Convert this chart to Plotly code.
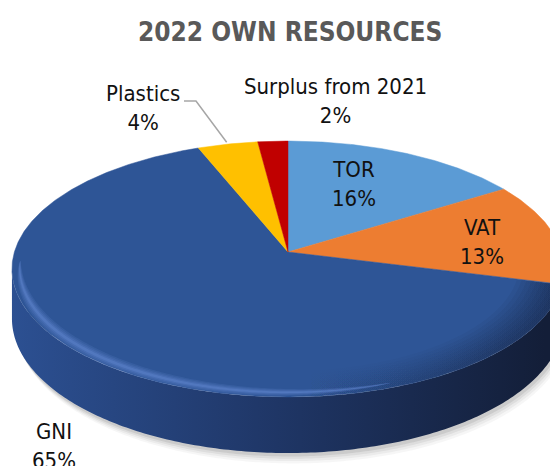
import numpy as np
import plotly.graph_objects as go

# 2022 own resources of the EU budget, share of total (%)
labels = ["TOR", "VAT", "GNI", "Plastics", "Surplus from 2021"]
shares = [16, 13, 65, 4, 2]

# styling
top_colors = ["#5b9bd5", "#ed7d31", "#2e5596", "#ffc000", "#c00000"]
side_scales = [
    [[0, "#4a86c2"], [0.5, "#3a6a9c"], [1, "#2a4f74"]],
    [[0, "#d26a24"], [0.5, "#b25a1c"], [1, "#7a3e10"]],
    [[0, "#2c5092"], [0.5, "#1f3666"], [1, "#131e38"]],
    [[0, "#e0a800"], [0.5, "#c09000"], [1, "#8a6800"]],
    [[0, "#b00000"], [0.5, "#900000"], [1, "#600000"]],
]
FONT = "Liberation Sans Narrow, DejaVu Sans Condensed, Arial Narrow, sans-serif"

# tilted-disc projection (pixel space of a 550x466 canvas)
CX, CY = 288.0, 252.0
RX, RY = 273.6, 125.7
PERSP = 0.133
DEPTH = 48.6


def project(theta_deg, r=1.0, drop=0.0):
    t = np.radians(np.asarray(theta_deg, dtype=float))
    u = r * np.sin(t)
    v = r * np.cos(t)
    w = 1.0 + PERSP * v
    return CX + RX * u / w, CY - RY * v / w + drop / w


def band(th, r_in, r_out):
    xo, yo = project(th, r_out)
    xi, yi = project(th[::-1], r_in[::-1] if np.ndim(r_in) else r_in)
    return np.concatenate([xo, xi]), np.concatenate([yo, yi])


fig = go.Figure()

total = float(sum(shares))
bounds = np.concatenate([[0.0], np.cumsum(shares) / total * 360.0])
gni = labels.index("GNI")

# visible part of the rim (front half, between the two horizontal extremes)
th_r = np.degrees(np.arccos(-PERSP))
th_l = 360.0 - th_r

# soft drop shadow under the disc, slightly offset to the lower right
for k, alpha in [(9, 0.035), (7, 0.045), (5, 0.06), (3, 0.08)]:
    th = np.linspace(th_r - 10, th_l + 3, 300)
    xs, ys = project(th, 1.0, DEPTH + k)
    xt, yt = project(th[::-1], 0.9, DEPTH)
    fig.add_trace(go.Scatter(x=np.concatenate([xs + k * 0.6, xt]),
                             y=np.concatenate([ys, yt]),
                             fill="toself", mode="none",
                             fillcolor=f"rgba(0,0,0,{alpha})", hoverinfo="skip"))

# side walls
for i in range(len(shares)):
    a = max(bounds[i], th_r)
    b = min(bounds[i + 1], th_l)
    if b <= a:
        continue
    th = np.linspace(a, b, 200)
    xt, yt = project(th)
    xb, yb = project(th[::-1], 1.0, DEPTH)
    fig.add_trace(go.Scatter(
        x=np.concatenate([xt, xb]), y=np.concatenate([yt, yb]),
        fill="toself", mode="none",
        fillgradient=dict(type="horizontal", colorscale=side_scales[i],
                          start=10, stop=545),
        hoverinfo="skip"))

# top faces of the slices
for i in range(len(shares)):
    n = max(int(shares[i] * 8), 20)
    th = np.linspace(bounds[i], bounds[i + 1], n)
    xr, yr = project(th)
    xs = np.concatenate([[CX], xr, [CX]])
    ys = np.concatenate([[CY], yr, [CY]])
    fig.add_trace(go.Scatter(x=xs, y=ys, fill="toself", mode="lines",
                             line=dict(color=top_colors[i], width=0.5),
                             fillcolor=top_colors[i], hoverinfo="skip"))

# darker bevel on the right-hand front rim of the GNI face
for r_in in np.linspace(0.84, 0.975, 9):
    th = np.linspace(bounds[gni] + 0.3, 200, 150)
    xs, ys = band(th, r_in, 1.0)
    fig.add_trace(go.Scatter(
        x=xs, y=ys, fill="toself", mode="none",
        fillgradient=dict(type="horizontal",
                          colorscale=[[0, "rgba(15,25,50,0)"], [1, "rgba(15,25,50,0.075)"]],
                          start=300, stop=550),
        hoverinfo="skip"))

# soft highlight along the left-hand front rim
th = np.linspace(160, 266, 200)
prof = np.sin(np.pi * (th - 160) / (266 - 160)) ** 0.7
for hw, alpha in [(0.03, 0.14), (0.022, 0.14), (0.014, 0.18), (0.007, 0.25)]:
    xs, ys = band(th, 0.972 - hw * prof, 0.972 + hw * prof)
    fig.add_trace(go.Scatter(x=xs, y=ys, fill="toself", mode="none",
                             fillcolor=f"rgba(110,150,225,{alpha})", hoverinfo="skip"))

# slice labels
label_pos = {"TOR": (354, 184), "VAT": (482, 242), "GNI": (54, 446),
             "Plastics": (143, 108), "Surplus from 2021": (335, 101)}
for name, val in zip(labels, shares):
    x, y = label_pos[name]
    fig.add_annotation(x=x, y=y, xref="x", yref="y", text=f"{name}<br>{val}%",
                       showarrow=False, xanchor="center", yanchor="middle",
                       font=dict(family=FONT, size=22, color="#111111"))

# leader line for the small Plastics slice
pi = labels.index("Plastics")
ex, ey = project((bounds[pi] + bounds[pi + 1]) / 2, 1.02)
fig.add_trace(go.Scatter(x=[184, 196, float(ex)], y=[101, 101, float(ey)], mode="lines",
                         line=dict(color="#a6a6a6", width=1.5), hoverinfo="skip"))

fig.add_annotation(x=290, y=32, xref="x", yref="y", text="<b>2022 OWN RESOURCES</b>",
                   showarrow=False, xanchor="center", yanchor="middle",
                   font=dict(family=FONT, size=26, color="#595959"))

fig.update_layout(
    width=550, height=466,
    margin=dict(l=0, r=0, t=0, b=0),
    paper_bgcolor="white", plot_bgcolor="white",
    showlegend=False,
    xaxis=dict(range=[0, 550], visible=False, fixedrange=True),
    yaxis=dict(range=[466, 0], visible=False, fixedrange=True),
)

fig.write_html("out.html")
